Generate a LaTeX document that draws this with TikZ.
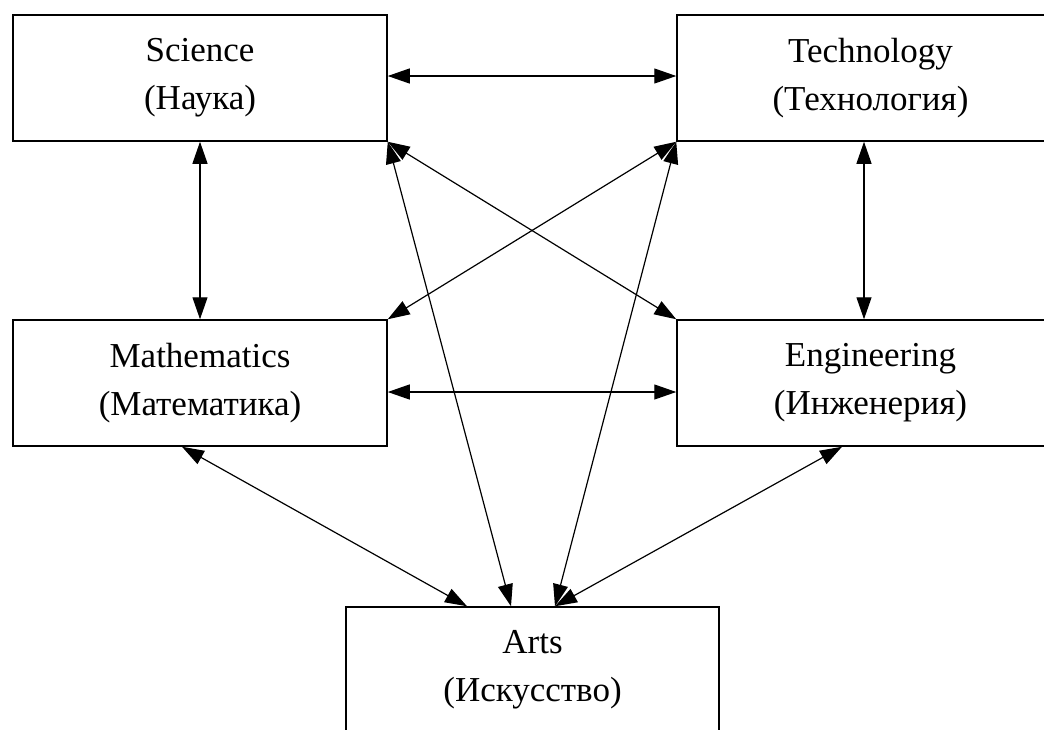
\documentclass[tikz,border=0pt]{standalone}
\usepackage{fontspec}
\setmainfont{Liberation Serif}
\usetikzlibrary{arrows.meta}
\begin{document}
\begin{tikzpicture}[x=1pt,y=-1pt,
  box/.style={draw, line width=1.5pt, rectangle, inner sep=0pt,
    minimum height=126pt, align=center,
    font=\fontsize{35}{48}\selectfont},
  conn/.style={{Triangle[length=22pt,width=15pt]}-{Triangle[length=22pt,width=15pt]},
    line width=1.2pt}]
\useasboundingbox (0,0) rectangle (1044,729);
\clip (0,0) rectangle (1044,729);
\fill[white] (0,0) rectangle (1044,729);

% the five disciplines
\node[box, minimum width=374pt] (sci)  at (200,78)    {Science\\(Наука)};
\node[box, minimum width=387pt] (tech) at (870.5,78)  {Technology\\(Технология)};
\node[box, minimum width=374pt] (math) at (200,383)   {Mathematics\\(Математика)};
\node[box, minimum width=387pt] (eng)  at (870.5,383) {Engineering\\(Инженерия)};
\node[box, minimum width=373pt] (arts) at (532.5,670) {Arts\\(Искусство)};

% two-way links
\draw[conn] ([yshift=2pt]sci.east) -- ([yshift=2pt]tech.west);
\draw[conn] ([yshift=-9pt]math.east) -- ([yshift=-9pt]eng.west);
\draw[conn] (sci.south) -- (math.north);
\draw[conn] ([xshift=-6.5pt]tech.south) -- ([xshift=-6.5pt]eng.north);
\draw[conn] (sci.south east) -- (eng.north west);
\draw[conn] (tech.south west) -- (math.north east);
\draw[conn] (sci.south east) -- ([xshift=-21.5pt]arts.north);
\draw[conn] (tech.south west) -- ([xshift=22.5pt]arts.north);
\draw[conn] ([xshift=-18pt]math.south) -- ([xshift=-65.5pt]arts.north);
\draw[conn] ([xshift=-28.5pt]eng.south) -- ([xshift=22.5pt]arts.north);
\end{tikzpicture}
\end{document}
